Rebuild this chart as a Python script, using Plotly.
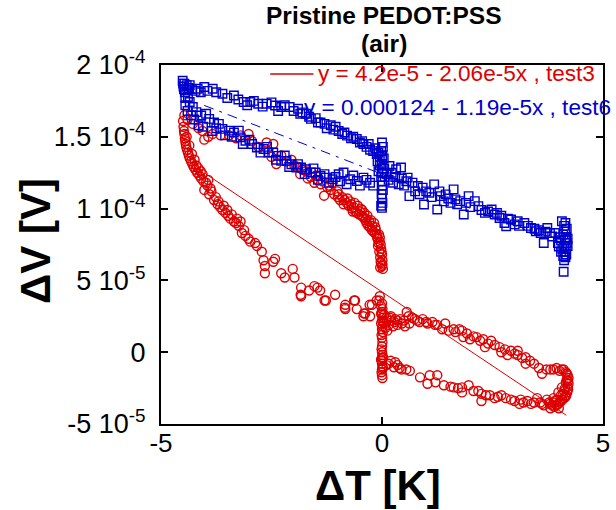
import plotly.graph_objects as go

# ---- measured data: (dT [K], dV [uV]) ------------------------------------
test3_upper = [
    (-4.47, 165), (-4.40, 162), (-4.28, 159), (-4.15, 156), (-4.06, 154), (-4.02, 148),
    (-3.93, 150), (-3.83, 152), (-3.65, 151), (-3.46, 151), (-3.30, 149), (-3.20, 151),
    (-3.02, 152), (-2.94, 147), (-2.80, 143), (-2.61, 146), (-2.46, 145), (-2.50, 136),
    (-2.39, 131), (-2.28, 137), (-2.16, 133), (-2.05, 134), (-1.98, 130), (-1.90, 129),
    (-1.85, 124), (-1.80, 127), (-1.72, 126), (-1.68, 121), (-1.61, 122), (-1.53, 118),
    (-1.50, 123), (-1.45, 120), (-1.39, 117), (-1.35, 119), (-1.31, 109), (-1.24, 115),
    (-1.20, 116), (-1.16, 113), (-1.12, 118), (-1.08, 110), (-1.01, 112), (-1.00, 108),
    (-0.98, 110), (-0.95, 106), (-0.90, 108), (-0.87, 103), (-0.85, 106), (-0.80, 104),
    (-0.78, 107), (-0.75, 102), (-0.72, 105), (-0.70, 103), (-0.68, 100), (-0.66, 98),
    (-0.64, 101), (-0.62, 104), (-0.60, 98), (-0.57, 97), (-0.55, 102), (-0.52, 96),
    (-0.50, 98), (-0.48, 100), (-0.46, 95), (-0.45, 99), (-0.42, 94), (-0.40, 97),
    (-0.38, 92), (-0.36, 93), (-0.35, 90), (-0.33, 95), (-0.31, 88), (-0.29, 91),
    (-0.27, 87), (-0.25, 92), (-0.23, 85), (-0.22, 88), (-0.20, 84), (-0.18, 90),
    (-0.16, 83), (-0.15, 87), (-0.14, 85), (-0.12, 82), (-0.11, 80), (-0.10, 79),
    (-0.09, 74), (-0.08, 76), (-0.07, 82), (-0.06, 70), (-0.05, 80), (-0.05, 77),
    (-0.04, 66), (-0.04, 59), (-0.03, 75), (-0.03, 63), (-0.02, 72), (-0.02, 62),
    (-0.01, 70), (0.00, 68), (0.00, 60), (0.01, 64), (0.01, 61), (0.02, 58),
]

test3_lower_left = [
    (-4.50, 161), (-4.49, 157), (-4.48, 154), (-4.47, 152), (-4.46, 149), (-4.45, 147),
    (-4.44, 145), (-4.42, 150), (-4.43, 143), (-4.41, 141), (-4.39, 139), (-4.37, 137),
    (-4.36, 144), (-4.35, 135), (-4.32, 133), (-4.30, 138), (-4.29, 131), (-4.26, 129),
    (-4.24, 134), (-4.22, 127), (-4.20, 130), (-4.18, 125), (-4.15, 128), (-4.13, 123),
    (-4.10, 126), (-4.09, 121), (-4.06, 124), (-4.04, 119), (-4.02, 113), (-3.98, 118),
    (-3.95, 116), (-3.93, 120), (-3.91, 110), (-3.88, 114), (-3.86, 112), (-3.80, 106),
    (-3.76, 108), (-3.72, 103), (-3.70, 105), (-3.66, 101), (-3.61, 99), (-3.58, 102),
    (-3.54, 97), (-3.50, 99), (-3.48, 95), (-3.43, 93), (-3.40, 96), (-3.35, 91),
    (-3.30, 90), (-3.28, 93), (-3.24, 88), (-3.20, 91), (-3.17, 83), (-3.12, 85),
    (-3.09, 81), (-3.02, 79), (-2.98, 77), (-2.87, 76), (-2.83, 74), (-2.72, 70),
    (-2.68, 64), (-2.65, 60), (-2.65, 55), (-2.46, 63), (-2.42, 65), (-2.28, 55),
    (-2.20, 52), (-2.02, 58), (-1.98, 52), (-1.84, 40), (-1.83, 45), (-1.83, 39),
    (-1.65, 43), (-1.53, 46), (-1.46, 45), (-1.40, 43), (-1.30, 36), (-1.27, 36),
    (-1.06, 40), (-0.84, 31), (-0.83, 33), (-0.83, 30), (-0.63, 36), (-0.61, 36),
    (-0.57, 30), (-0.42, 25), (-0.41, 27), (-0.38, 27), (-0.28, 33), (-0.27, 25),
    (-0.23, 33), (-0.12, 36), (-0.06, 36), (-0.05, 39),
]

test3_zero = [
    (0.00, 34), (-0.02, 32), (0.01, 30), (0.00, 28), (-0.02, 27), (-0.01, 26),
    (0.02, 24), (0.00, 22), (0.03, 21), (-0.02, 20), (0.01, 18), (0.00, 16),
    (0.02, 14), (-0.01, 12), (0.00, 10), (0.01, 7), (0.00, 4), (-0.01, 2),
    (0.00, 0), (0.01, -2), (0.00, -4), (-0.02, -5), (-0.01, -6), (0.00, -8),
    (0.01, -10), (0.02, -11), (0.00, -12), (-0.01, -14), (0.00, -16), (0.01, -18),
]

test3_upper_right = [
    (0.05, 20), (0.05, 26), (0.08, 17), (0.10, 24), (0.10, 21), (0.12, 15),
    (0.15, 19), (0.18, 24), (0.20, 22), (0.20, 25), (0.25, 18), (0.28, 21),
    (0.30, 23), (0.35, 19), (0.35, 22), (0.41, 23), (0.45, 20), (0.50, 22),
    (0.52, 18), (0.56, 28), (0.60, 25), (0.62, 20), (0.68, 24), (0.74, 23),
    (0.80, 22), (0.85, 21), (0.92, 23), (1.00, 21), (1.03, 20), (1.14, 21),
    (1.20, 19), (1.25, 19), (1.36, 16), (1.43, 20), (1.51, 15), (1.62, 16),
    (1.66, 14), (1.75, 16), (1.81, 15), (1.84, 10.5), (1.92, 13), (1.99, 9),
    (2.07, 11), (2.14, 10.5), (2.22, 8), (2.29, 9), (2.33, 3.5), (2.40, 6),
    (2.47, 8), (2.55, 5), (2.66, 3.5), (2.70, 0), (2.78, 2), (2.84, -2),
    (2.92, 1), (3.00, -1), (3.07, 1), (3.07, -2), (3.17, -4), (3.25, -3.5),
    (3.25, -8), (3.35, -6), (3.44, -8), (3.55, -11), (3.62, -15), (3.72, -12),
    (3.81, -12), (3.88, -12), (3.95, -11), (4.02, -13), (4.07, -12), (4.11, -12),
    (4.16, -14),
]

test3_right_end = [
    (4.18, -15), (4.20, -16), (4.22, -18), (4.21, -20), (4.22, -22), (4.20, -24),
    (4.21, -26), (4.19, -28), (4.17, -30), (4.15, -31), (4.12, -32), (4.08, -33),
    (4.05, -34), (4.02, -35), (3.98, -36), (3.95, -37), (3.90, -38), (4.00, -39),
    (3.85, -37), (4.10, -29), (4.14, -25), (4.16, -21), (4.18, -19), (4.12, -27),
    (4.05, -30), (3.95, -33), (3.88, -35), (3.80, -36),
]

test3_lower_right = [
    (0.02, -3.5), (0.10, -9), (0.15, -8), (0.20, -6), (0.27, -10.5), (0.30, -7),
    (0.35, -9), (0.40, -11), (0.44, -12), (0.55, -12), (0.63, -13), (0.86, -17.5),
    (1.03, -22), (1.08, -16), (1.21, -21), (1.25, -16), (1.40, -23), (1.55, -24),
    (1.62, -24.5), (1.72, -25), (1.81, -24.5), (1.81, -28), (1.96, -23), (2.07, -27),
    (2.18, -27), (2.25, -29), (2.25, -34), (2.35, -30), (2.44, -30), (2.55, -32),
    (2.62, -31), (2.70, -30), (2.80, -32), (2.92, -33), (3.00, -34), (3.11, -36),
    (3.14, -33), (3.20, -35), (3.29, -34), (3.37, -36), (3.44, -35), (3.51, -32),
    (3.58, -35), (3.62, -36), (3.66, -37), (3.73, -33), (3.78, -35), (3.81, -39),
    (3.88, -32), (3.92, -34), (3.99, -28), (4.07, -24.5),
]

test6_upper_left = [
    (-4.51, 189), (-4.50, 187), (-4.49, 185), (-4.48, 183), (-4.42, 186), (-4.38, 184),
    (-4.35, 186), (-4.30, 183), (-4.22, 182), (-4.17, 183.5), (-4.10, 181), (-4.02, 184.7),
    (-3.95, 182), (-3.83, 183.5), (-3.75, 181), (-3.61, 180), (-3.50, 177), (-3.35, 178.8),
    (-3.25, 176), (-3.13, 174.2), (-3.05, 172), (-2.98, 174.2), (-2.90, 175), (-2.80, 173),
    (-2.70, 171), (-2.61, 173), (-2.50, 174), (-2.42, 171.8), (-2.35, 168), (-2.28, 170.7),
    (-2.20, 172), (-2.09, 170.7), (-2.00, 168), (-1.90, 169.5), (-1.85, 166), (-1.80, 167),
    (-1.72, 166), (-1.65, 164), (-1.61, 162.5), (-1.50, 163), (-1.45, 160), (-1.39, 160),
    (-1.30, 159), (-1.25, 156), (-1.16, 158), (-1.10, 155), (-1.05, 157), (-0.98, 154),
    (-0.90, 152), (-0.85, 153), (-0.79, 150.8), (-0.70, 149), (-0.65, 150), (-0.57, 148.5),
    (-0.50, 146), (-0.45, 147), (-0.42, 145), (-0.35, 143), (-0.30, 145), (-0.27, 141),
    (-0.20, 140), (-0.15, 142), (-0.12, 138), (-0.08, 139), (-0.05, 136),
]

test6_zero = [
    (0.00, 146), (0.02, 143), (-0.02, 140), (0.01, 137), (0.00, 134), (-0.01, 131),
    (0.02, 128), (0.00, 125), (-0.02, 122), (0.01, 119), (0.00, 116), (0.02, 113),
    (-0.01, 110), (0.00, 107), (0.01, 104), (-0.02, 102), (0.00, 100.5), (-0.05, 130),
    (-0.08, 126), (0.05, 128), (0.06, 122), (-0.10, 133), (0.04, 135),
]

test6_right = [
    (0.10, 124), (0.15, 120), (0.17, 129.7), (0.22, 125), (0.25, 118), (0.30, 122),
    (0.32, 127.4), (0.38, 117), (0.43, 128.6), (0.45, 121), (0.50, 116), (0.55, 119),
    (0.58, 121.6), (0.62, 108.7), (0.69, 118.1), (0.75, 112), (0.81, 115.7), (0.85, 110),
    (0.92, 114.6), (0.95, 102.9), (1.00, 112), (1.07, 111), (1.12, 108), (1.18, 116.9),
    (1.25, 99.4), (1.30, 112), (1.33, 108.7), (1.40, 105), (1.44, 109.9), (1.50, 107),
    (1.55, 104), (1.62, 113.4), (1.66, 106.4), (1.70, 103), (1.77, 105.2), (1.85, 95.9),
    (1.90, 104), (1.96, 108.7), (2.00, 101), (2.10, 105.2), (2.18, 101.7), (2.25, 99),
    (2.33, 97), (2.40, 98), (2.48, 99.4), (2.55, 95.9), (2.60, 97), (2.66, 93.5),
    (2.70, 95), (2.77, 90), (2.81, 87.7), (2.85, 93), (2.92, 92.4), (3.00, 89),
    (3.07, 91.2), (3.10, 88), (3.22, 90), (3.30, 88), (3.37, 86.5), (3.45, 86),
    (3.48, 84.2), (3.55, 85), (3.59, 83), (3.66, 76), (3.70, 84), (3.74, 86.5),
    (3.80, 83), (3.85, 80.6), (3.92, 83), (4.00, 73.6), (4.07, 91.2),
]

test6_right_end = [
    (4.15, 90), (4.12, 88), (4.18, 86), (4.15, 84), (4.10, 82), (4.17, 80),
    (4.14, 78), (4.18, 76), (4.12, 74), (4.16, 72), (4.13, 70), (4.17, 68),
    (4.15, 66), (4.12, 64), (4.11, 56), (4.05, 78), (4.08, 72), (4.20, 74),
    (4.02, 80), (4.05, 70), (4.10, 67), (3.98, 76), (4.20, 79),
]

test6_lower_left = [
    (-4.47, 187), (-4.46, 181), (-4.45, 177), (-4.43, 182.3), (-4.45, 172), (-4.39, 177.7),
    (-4.40, 168), (-4.35, 174.2), (-4.32, 165), (-4.28, 170.7), (-4.25, 162), (-4.20, 167.2),
    (-4.15, 158), (-4.09, 164.8), (-4.05, 157), (-3.98, 166), (-3.91, 162.5), (-3.85, 154),
    (-3.80, 160), (-3.75, 156), (-3.69, 159), (-3.61, 155.5), (-3.55, 151), (-3.46, 154.3),
    (-3.40, 150), (-3.35, 153), (-3.24, 154.3), (-3.20, 149.6), (-3.15, 145), (-3.09, 147.3),
    (-3.00, 148), (-2.94, 145), (-2.83, 142.6), (-2.75, 139), (-2.68, 141.5), (-2.60, 143),
    (-2.57, 139.1), (-2.46, 139.1), (-2.40, 134), (-2.35, 136.7), (-2.28, 133.2), (-2.20, 137),
    (-2.16, 133.2), (-2.10, 129), (-2.05, 130.9), (-1.94, 128.6), (-1.90, 131), (-1.83, 128.6),
    (-1.75, 124), (-1.72, 127.4), (-1.61, 125.1), (-1.55, 128), (-1.50, 125.1), (-1.45, 120),
    (-1.39, 122.7), (-1.30, 124), (-1.27, 121.6), (-1.20, 118), (-1.12, 120.4), (-1.05, 122),
    (-0.98, 123.9), (-0.95, 119), (-0.87, 125.1), (-0.80, 117), (-0.72, 120.4), (-0.65, 123),
    (-0.57, 119.2), (-0.50, 116), (-0.42, 121.6), (-0.35, 120), (-0.27, 118), (-0.20, 116),
]

# linear fits as reported in the legend: dV = intercept + slope * dT
fit3_intercept, fit3_slope, fit3_span = 4.2e-5, -2.06e-5, [-4.0, 4.17]
fit6_intercept, fit6_slope, fit6_span = 0.000124, -1.19e-5, [-4.02, 4.17]
fit3_label = "y = 4.2e-5 - 2.06e-5x , test3"
fit6_label = "y = 0.000124 - 1.19e-5x , test6"

x_ticks = [-5, 0, 5]
x_ticktext = ["-5", "0", "5"]
y_ticks = [-5e-5, 0, 5e-5, 1e-4, 1.5e-4, 2e-4]
y_ticktext = ["-5 10<sup>-5</sup>", "0", "5 10<sup>-5</sup>",
              "1 10<sup>-4</sup>", "1.5 10<sup>-4</sup>", "2 10<sup>-4</sup>"]

RED = "rgb(221,0,0)"
BLUE = "rgb(0,0,204)"
UV = 1e-6


def unzip(*branches):
    pts = [p for b in branches for p in b]
    return [p[0] for p in pts], [p[1] * UV for p in pts]


x3, y3 = unzip(test3_upper, test3_lower_left, test3_zero,
               test3_upper_right, test3_right_end, test3_lower_right)
x6, y6 = unzip(test6_upper_left, test6_zero, test6_right,
               test6_right_end, test6_lower_left)

fig = go.Figure()

fig.add_trace(go.Scatter(
    x=fit3_span, y=[fit3_intercept + fit3_slope * t for t in fit3_span],
    mode="lines", line=dict(color=RED, width=1), hoverinfo="skip"))
fig.add_trace(go.Scatter(
    x=fit6_span, y=[fit6_intercept + fit6_slope * t for t in fit6_span],
    mode="lines", line=dict(color=BLUE, width=1, dash="10px,6px,3px,6px"),
    hoverinfo="skip"))

fig.add_trace(go.Scatter(
    x=x3, y=y3, mode="markers", name="test3",
    marker=dict(symbol="circle-open", size=9, color=RED, line=dict(width=1.4, color=RED))))
fig.add_trace(go.Scatter(
    x=x6, y=y6, mode="markers", name="test6",
    marker=dict(symbol="square-open", size=8.5, color=BLUE, line=dict(width=1.4, color=BLUE))))

axis_common = dict(
    showgrid=False, zeroline=False, showline=True, linewidth=2, linecolor="black",
    mirror="ticks", ticks="inside", ticklen=7, tickwidth=2, tickcolor="black",
)
fig.update_xaxes(range=[-5, 5], tickmode="array", tickvals=x_ticks,
                 ticktext=x_ticktext, ticklabelstandoff=-5,
                 tickfont=dict(family="Arial", size=26, color="black"), **axis_common)
fig.update_yaxes(range=[-5e-5, 2e-4], tickmode="array", tickvals=y_ticks,
                 ticktext=y_ticktext, ticklabelstandoff=8,
                 tickfont=dict(family="Arial", size=27, color="black"), **axis_common)


def note(text, x, y, size, color="black", xanchor="center", **extra):
    return dict(text=text, x=x, y=y, xref="paper", yref="paper",
                xanchor=xanchor, yanchor="middle", showarrow=False,
                font=dict(family="Arial", size=size, color=color), **extra)


annotations = [
    note("<b>Pristine PEDOT:PSS</b>", 0.5056, 1.1365, 24.5),
    note("<b>(air)</b>", 0.5056, 1.0585, 24.5),
    note("<b>ΔT [K]</b>", 0.49, 0, 42, yshift=-61),
    note("<b>ΔV [V]</b>", 0, 0.51, 42, xshift=-125, textangle=-90),
    note(fit3_label, 0.3497, 0.975, 22.6, color=RED, xanchor="left"),
    note(fit6_label, 0.3185, 0.883, 22.6, color=BLUE, xanchor="left"),
]

fig.update_layout(
    width=616, height=510,
    margin=dict(l=161, r=6, t=65, b=86),
    plot_bgcolor="white", paper_bgcolor="white",
    showlegend=False,
    annotations=annotations,
    shapes=[dict(type="line", xref="paper", yref="paper",
                 x0=0.247, x1=0.345, y0=0.975, y1=0.975,
                 line=dict(color=RED, width=1.3))],
)

fig.write_html("out.html")
